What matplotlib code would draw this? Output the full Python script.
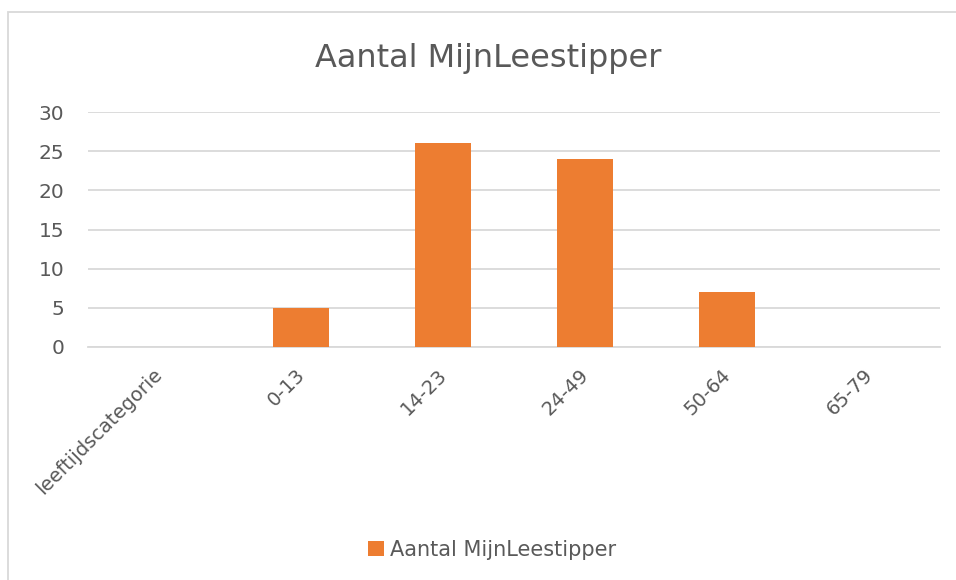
import matplotlib.pyplot as plt
import matplotlib.transforms as mtransforms
from matplotlib.patches import Rectangle

# data
categories = ["leeftijdscategorie", "0-13", "14-23", "24-49", "50-64", "65-79"]
values = [0, 5, 26, 24, 7, 0]
series_name = "Aantal MijnLeestipper"
yticks = [0, 5, 10, 15, 20, 25, 30]

orange = "#ED7D31"
grey_txt = "#595959"
grid_col = "#D9D9D9"

plt.rcParams['font.family'] = ['DejaVu Sans']

fig = plt.figure(figsize=(9.56, 5.8), dpi=100)
W, H = 956, 580
# plot area in pixels: x 88..940, y 112..347
ax = fig.add_axes([88 / W, 1 - 347 / H, (940 - 88) / W, (347 - 112) / H])

x = list(range(len(categories)))
ax.bar(x, values, width=0.394, color=orange, label=series_name, zorder=3)

ax.set_xlim(-0.5, len(categories) - 0.5)
ax.set_ylim(0, 30)
ax.set_yticks(yticks)
ax.yaxis.grid(True, color=grid_col, linewidth=1.3, zorder=0)
for s in ["top", "right", "left"]:
    ax.spines[s].set_visible(False)
ax.spines["bottom"].set_color(grid_col)
ax.spines["bottom"].set_linewidth(1.3)
ax.tick_params(axis="both", length=0, colors=grey_txt, labelsize=14.5)
ax.tick_params(axis="y", pad=17)
ax.set_xticks(x)
ax.set_xticklabels(categories, rotation=45, ha="right", va="top",
                   rotation_mode="anchor", fontsize=14, color=grey_txt)
ax.tick_params(axis="x", pad=13)
shift = mtransforms.ScaledTranslation(-6 / 100, 0, fig.dpi_scale_trans)
for lab in ax.get_xticklabels():
    lab.set_transform(lab.get_transform() + shift)

fig.text(488 / W, 1 - 58 / H, "Aantal MijnLeestipper", ha="center", va="center",
         fontsize=23, color=grey_txt)

leg = fig.legend(loc="center", bbox_to_anchor=(492 / W, 1 - 550 / H), frameon=False,
                 fontsize=15, handlelength=0.75, handleheight=0.75, handletextpad=0.3)
for t in leg.get_texts():
    t.set_color(grey_txt)

# chart border
fig.patches.append(Rectangle((8 / W, -0.01), 1.0, 1 - 12 / H + 0.01,
                             transform=fig.transFigure, fill=False,
                             edgecolor=grid_col, linewidth=1.3))

fig.savefig("out.png", dpi=100)
